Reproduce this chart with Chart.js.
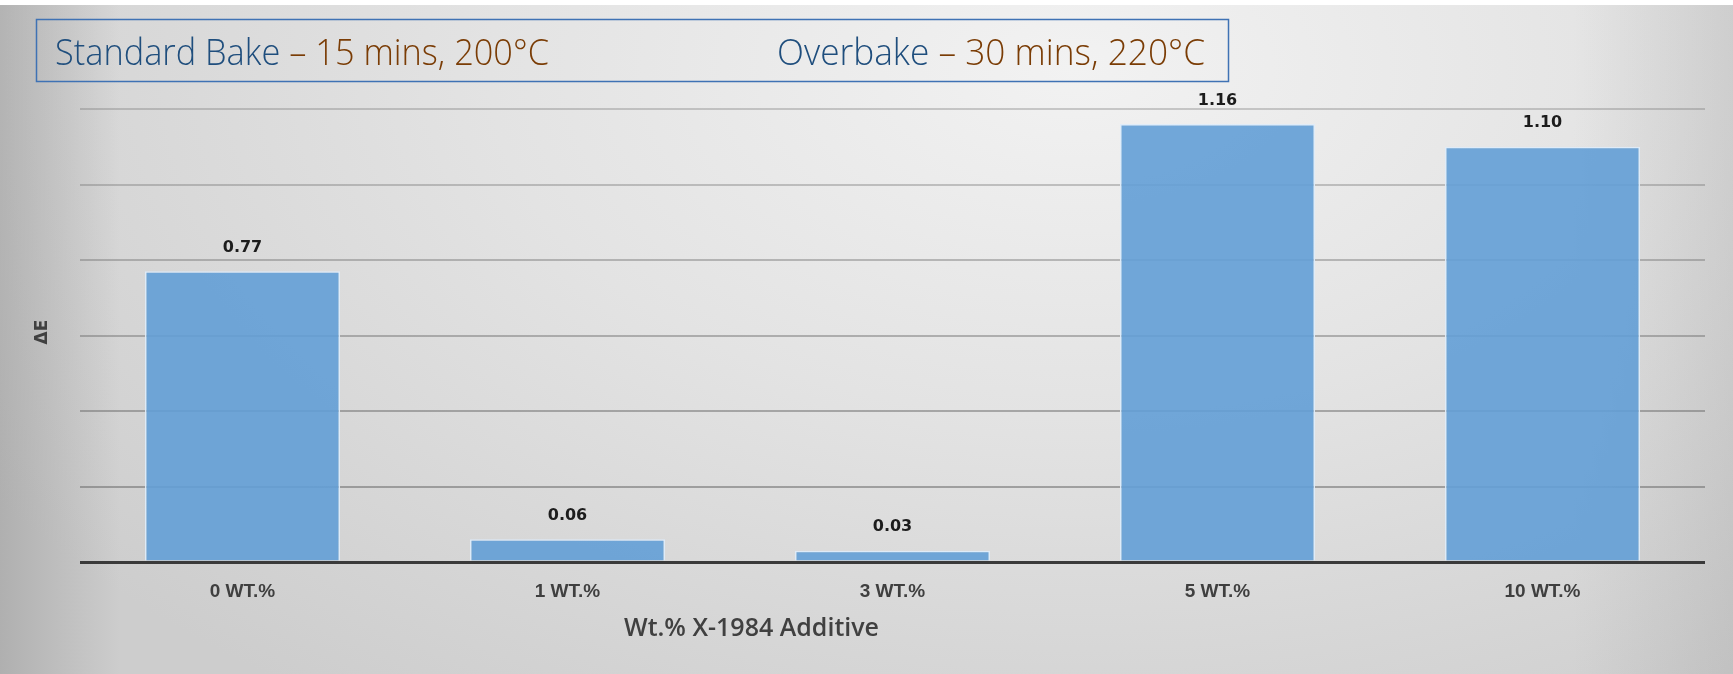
<!DOCTYPE html>
<html>
<head>
<meta charset="utf-8">
<script src="https://cdn.jsdelivr.net/npm/chart.js@4.4.1/dist/chart.umd.min.js"></script>
<style>
  html, body { margin: 0; padding: 0; }
  body {
    width: 1733px; height: 674px; overflow: hidden;
    background:
      linear-gradient(#ffffff, #ffffff) top left / 100% 5px no-repeat,
      linear-gradient(to right, rgba(140,140,140,0.45) 0px, rgba(140,140,140,0) 120px),
      linear-gradient(to left, rgba(150,150,150,0.25) 0px, rgba(150,150,150,0) 160px),
      radial-gradient(ellipse 75% 115% at 62% 10%, #f2f2f2 0%, #e3e3e3 45%, #cdcdcd 100%);
  }
  #wrap { position: relative; width: 1733px; height: 674px; }
</style>
</head>
<body>
<div id="wrap"><canvas id="chart" width="1733" height="674"></canvas></div>
<script>
// data
const categories = ['0 WT.%', '1 WT.%', '3 WT.%', '5 WT.%', '10 WT.%'];
const deltaE = [0.77, 0.06, 0.03, 1.16, 1.10];
const yMax = 1.2;
const yStep = 0.2;

const xTitle = 'Wt.% X-1984 Additive';
const yTitle = 'ΔE';
const headerLeft = [['Standard Bake', '#1f4e7d'], [' – 15 mins, 200°C', '#7a3c05']];
const headerRight = [['Overbake', '#1f4e7d'], [' – 30 mins, 220°C', '#7a3c05']];

// draws a run of coloured text squeezed/stretched to a given width
function drawRuns(ctx, runs, x, y, width, font) {
  ctx.save();
  ctx.font = font;
  ctx.textBaseline = 'alphabetic';
  ctx.textAlign = 'left';
  const total = runs.reduce((s, r) => s + ctx.measureText(r[0]).width, 0);
  ctx.translate(x, y);
  ctx.scale(width / total, 1);
  let cx = 0;
  for (const [text, color] of runs) {
    ctx.fillStyle = color;
    ctx.fillText(text, cx, 0);
    cx += ctx.measureText(text).width;
  }
  ctx.restore();
}

const decorations = {
  id: 'decorations',
  afterDatasetsDraw(chart) {
    const ctx = chart.ctx;
    // value labels above bars
    const meta = chart.getDatasetMeta(0);
    ctx.save();
    ctx.font = 'bold 16px "DejaVu Sans"';
    ctx.fillStyle = '#1c1c1c';
    ctx.textAlign = 'center';
    ctx.textBaseline = 'middle';
    meta.data.forEach((bar, i) => {
      ctx.fillText(deltaE[i].toFixed(2), bar.x, bar.y - 23.5);
    });
    ctx.restore();
  },
  afterDraw(chart) {
    const ctx = chart.ctx;
    // header box
    ctx.save();
    ctx.strokeStyle = '#3f72b4';
    ctx.lineWidth = 1.5;
    ctx.strokeRect(36.5, 19.5, 1192, 62);
    ctx.restore();
    drawRuns(ctx, headerLeft, 55, 65, 494, '300 37px "Open Sans"');
    drawRuns(ctx, headerRight, 777, 65, 428, '300 37px "Open Sans"');

    // axis titles
    drawRuns(ctx, [[xTitle, '#404040']], 624, 636, 255, '600 25px "Open Sans"');
    ctx.save();
    ctx.translate(43, 332);
    ctx.rotate(-Math.PI / 2);
    ctx.font = 'bold 17px "DejaVu Sans"';
    ctx.fillStyle = '#404040';
    ctx.textAlign = 'center';
    ctx.textBaseline = 'middle';
    ctx.fillText(yTitle, 0, 0);
    ctx.restore();
  }
};

// gridlines fade out towards the top, like the original slide
function gridColor(c) {
  const v = c.tick.value;
  if (v === 0) return '#3a3a3a';
  const a = 0.62 - 0.3 * (v / yMax);
  return `rgba(110,110,110,${a.toFixed(2)})`;
}

new Chart(document.getElementById('chart'), {
  type: 'bar',
  data: {
    labels: categories,
    datasets: [{
      data: deltaE,
      backgroundColor: 'rgba(99,159,214,0.9)',
      borderColor: 'rgba(222,236,250,0.95)',
      borderWidth: 1.5,
      borderSkipped: 'bottom',
      categoryPercentage: 0.6,
      barPercentage: 1.0
    }]
  },
  options: {
    responsive: false,
    animation: false,
    layout: { padding: { left: 80, right: 28, top: 109, bottom: 0 } },
    plugins: { legend: { display: false }, tooltip: { enabled: false } },
    scales: {
      x: {
        grid: { display: false, drawTicks: false },
        border: { display: false },
        ticks: {
          color: '#3f3f3f',
          font: { family: '"Liberation Sans"', weight: 'bold', size: 19 },
          padding: 18,
          maxRotation: 0
        },
        afterFit: s => { s.height = 112; }
      },
      y: {
        min: 0,
        max: yMax,
        ticks: { display: false, stepSize: yStep },
        border: { display: false },
        grid: {
          drawTicks: false,
          color: gridColor,
          lineWidth: c => c.tick.value === 0 ? 3 : 2
        },
        afterFit: s => { s.width = 0; }
      }
    }
  },
  plugins: [decorations]
});
</script>
</body>
</html>
